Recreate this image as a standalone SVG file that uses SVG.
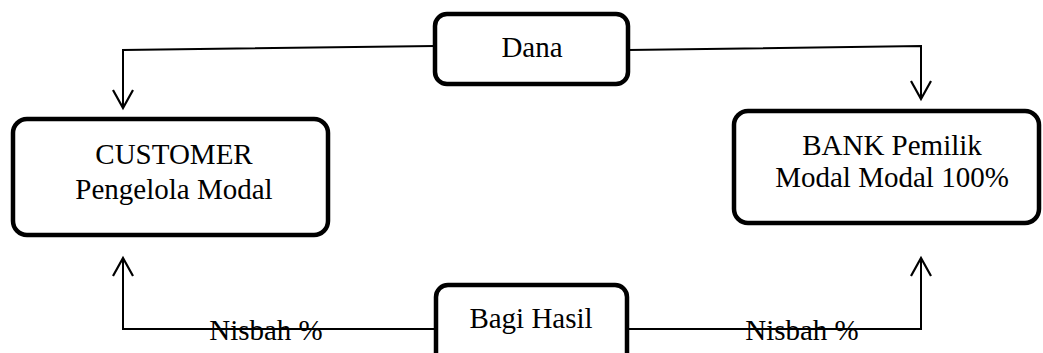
<svg xmlns="http://www.w3.org/2000/svg" width="1043" height="353" viewBox="0 0 1043 353">
  <style>
    .box { fill: #fff; stroke: #000; stroke-width: 4.5; }
    .lbl { font-family: "Liberation Serif", "Times New Roman", serif; font-size: 29px; fill: #000; text-anchor: middle; }
    .wire { fill: none; stroke: #000; stroke-width: 2; }
    .head { fill: none; stroke: #000; stroke-width: 2.2; stroke-linejoin: miter; }
  </style>
  <rect width="1043" height="353" fill="#fff"/>

  <!-- connectors -->
  <g id="connectors">
    <!-- Dana to customer and bank -->
    <polyline class="wire" points="435,46 123,50 123,108"/>
    <polyline class="head" points="113,90 123,108 133,90"/>
    <polyline class="wire" points="628,50 921,46 921,99"/>
    <polyline class="head" points="911,81 921,99 931,81"/>
    <!-- Bagi Hasil to customer and bank -->
    <polyline class="wire" points="436,329 123,329 123,258"/>
    <polyline class="head" points="113,276 123,258 133,276"/>
    <polyline class="wire" points="627,329 921,329 921,258"/>
    <polyline class="head" points="911,276 921,258 931,276"/>
  </g>

  <g id="dana">
    <rect class="box" x="435" y="14" width="193" height="70" rx="12"/>
    <text class="lbl" x="532" y="57">Dana</text>
  </g>

  <g id="customer">
    <rect class="box" x="13" y="119" width="315" height="116" rx="14"/>
    <text class="lbl" x="174" y="164">CUSTOMER</text>
    <text class="lbl" x="174" y="199">Pengelola Modal</text>
  </g>

  <g id="bank">
    <rect class="box" x="734" y="111" width="305" height="112" rx="14"/>
    <text class="lbl" x="892" y="155">BANK Pemilik</text>
    <text class="lbl" x="892" y="187">Modal Modal 100%</text>
  </g>

  <g id="bagi-hasil">
    <rect class="box" x="436" y="285" width="191" height="80" rx="12"/>
    <text class="lbl" x="531" y="328">Bagi Hasil</text>
  </g>

  <!-- labels sitting on the lower connectors -->
  <g id="nisbah-labels">
    <text class="lbl" x="266" y="340">Nisbah %</text>
    <text class="lbl" x="802" y="340">Nisbah %</text>
  </g>
</svg>
